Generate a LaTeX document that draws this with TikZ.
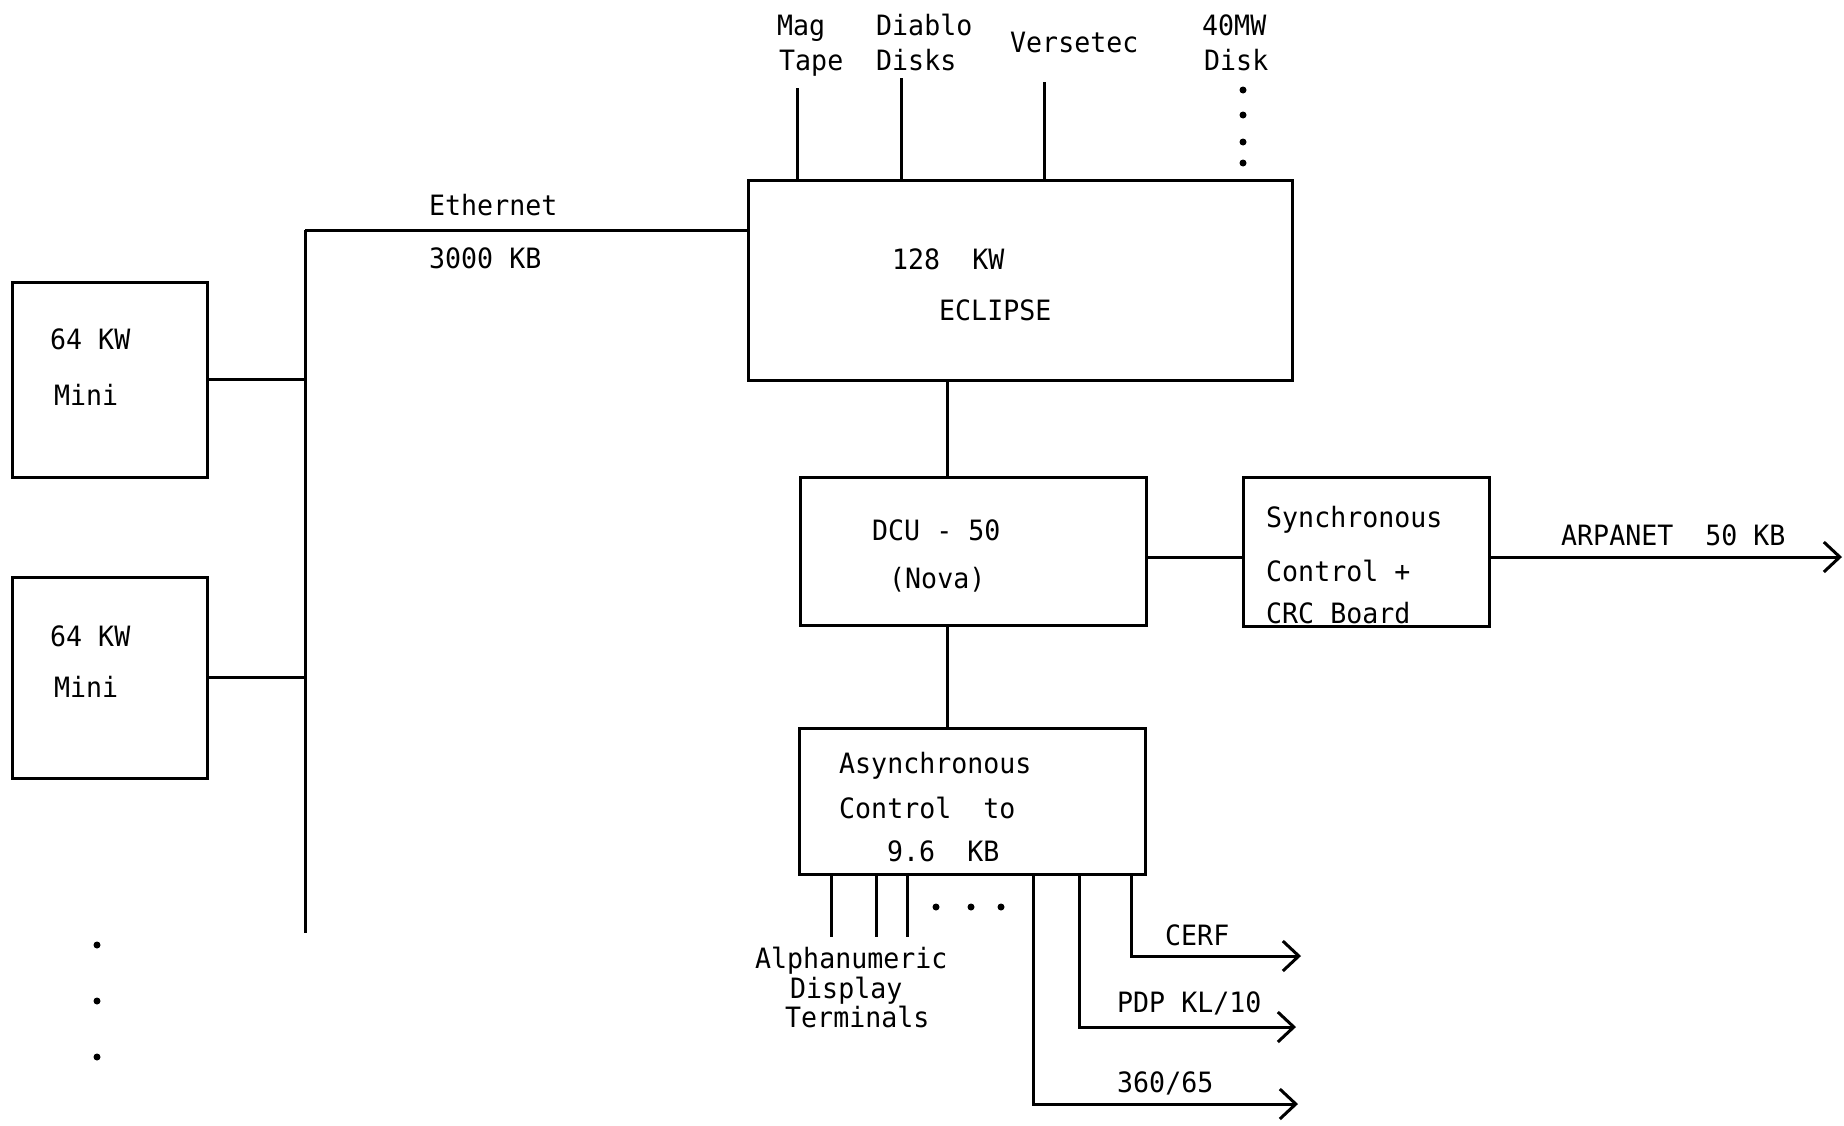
\documentclass[tikz,border=0pt]{standalone}
\usepackage{fontspec}
\setmonofont[FakeStretch=0.95]{DejaVu Sans Mono}
\usetikzlibrary{arrows.meta}
\begin{document}
\begin{tikzpicture}[x=1pt,y=-1pt,
  box/.style={draw,line width=3pt,inner sep=0pt,outer sep=0pt,anchor=north west},
  lbl/.style={anchor=base west,inner sep=0pt,font=\ttfamily\fontsize{28}{30}\selectfont},
  wire/.style={line width=3pt},
  arr/.style={line width=3pt,-{Straight Barb[length=16pt,width=30pt]}},
  dot/.style={circle,fill,inner sep=0pt,minimum size=7pt}]
\useasboundingbox (0,0) rectangle (1844,1125);
\fill[white] (0,0) rectangle (1844,1125);

% boxes
\node[box,minimum width=195pt,minimum height=195pt] (mini1) at (12,282) {};
\node[box,minimum width=195pt,minimum height=201pt] (mini2) at (12,577) {};
\node[box,minimum width=544pt,minimum height=200pt] (eclipse) at (748,180) {};
\node[box,minimum width=346pt,minimum height=148pt] (dcu) at (800,477) {};
\node[box,minimum width=246pt,minimum height=149pt] (sync) at (1243,477) {};
\node[box,minimum width=346pt,minimum height=146pt] (async) at (799,728) {};

% texts
\node[lbl] (t64a) at (50,349) {64 KW};
\node[lbl] (tmini1) at (54,405) {Mini};
\node[lbl] (t64b) at (50,646) {64 KW};
\node[lbl] (tmini2) at (54,697) {Mini};
\node[lbl] (teth) at (429,215) {Ethernet};
\node[lbl] (t3000) at (429,268) {3000 KB};
\node[lbl] (tkw) at (892,269) {128~~KW};
\node[lbl] (tecl) at (939,320) {ECLIPSE};
\node[lbl] (tmag) at (777,35) {Mag};
\node[lbl] (ttape) at (779,70) {Tape};
\node[lbl] (tdiablo) at (876,35) {Diablo};
\node[lbl] (tdisks) at (876,70) {Disks};
\node[lbl] (tvers) at (1010,52) {Versetec};
\node[lbl] (t40) at (1202,35) {40MW};
\node[lbl] (tdisk) at (1204,70) {Disk};
\node[lbl] (tdcu) at (872,540) {DCU - 50};
\node[lbl] (tnova) at (889,588) {(Nova)};
\node[lbl] (tsync1) at (1266,527) {Synchronous};
\node[lbl] (tsync2) at (1266,581) {Control +};
\node[lbl] (tsync3) at (1266,623) {CRC Board};
\node[lbl] (tarpa) at (1561,545) {ARPANET~~50 KB};
\node[lbl] (tas1) at (839,773) {Asynchronous};
\node[lbl] (tas2) at (839,818) {Control~~to};
\node[lbl] (tas3) at (887,861) {9.6~~KB};
\node[lbl] (talpha) at (755,968) {Alphanumeric};
\node[lbl] (tdisp) at (790,998) {Display};
\node[lbl] (tterm) at (785,1027) {Terminals};
\node[lbl] (tcerf) at (1165,945) {CERF};
\node[lbl] (tpdp) at (1117,1012) {PDP KL/10};
\node[lbl] (t360) at (1117,1092) {360/65};

% coordinates
\coordinate (busTop) at (305,230);
\coordinate (busBot) at (305,933);
\coordinate (magT) at (797,88);
\coordinate (diabT) at (901,78);
\coordinate (versT) at (1044,82);
\coordinate (cx) at (947,0);
\coordinate (arpa) at (1842,557);
\coordinate (term1) at (831,937);
\coordinate (term2) at (876,937);
\coordinate (term3) at (907,937);
\coordinate (cerfC) at (1131,956);
\coordinate (cerfE) at (1301,956);
\coordinate (pdpC) at (1079,1027);
\coordinate (pdpE) at (1296,1027);
\coordinate (ibmC) at (1033,1104);
\coordinate (ibmE) at (1298,1104);

% Ethernet bus
\draw[wire] (busTop) -- (busBot);
\draw[wire] (busTop) -- (busTop -| eclipse.west);
\draw[wire] (mini1.east) -- (mini1.east -| busTop);
\draw[wire] (mini2.east) -- (mini2.east -| busTop);

% peripherals
\draw[wire] (magT) -- (magT |- eclipse.north);
\draw[wire] (diabT) -- (diabT |- eclipse.north);
\draw[wire] (versT) -- (versT |- eclipse.north);
\node[dot] (d1) at (1243,90) {};
\node[dot] (d2) at (1243,115) {};
\node[dot] (d3) at (1243,142) {};
\node[dot] (d4) at (1243,163) {};

% vertical chain
\draw[wire] (cx |- eclipse.south) -- (cx |- dcu.north);
\draw[wire] (cx |- dcu.south) -- (cx |- async.north);

% DCU to sync, ARPANET
\draw[wire] (arpa -| dcu.east) -- (arpa -| sync.west);
\draw[arr] (arpa -| sync.east) -- (arpa);

% terminals
\draw[wire] (term1 |- async.south) -- (term1);
\draw[wire] (term2 |- async.south) -- (term2);
\draw[wire] (term3 |- async.south) -- (term3);
\node[dot] (e1) at (936,907) {};
\node[dot] (e2) at (971,907) {};
\node[dot] (e3) at (1001,907) {};

% outgoing lines
\draw[arr] (cerfC |- async.south) -- (cerfC) -- (cerfE);
\draw[arr] (pdpC |- async.south) -- (pdpC) -- (pdpE);
\draw[arr] (ibmC |- async.south) -- (ibmC) -- (ibmE);

% left dots
\node[dot] (l1) at (97,945) {};
\node[dot] (l2) at (97,1001) {};
\node[dot] (l3) at (97,1057) {};
\end{tikzpicture}
\end{document}
